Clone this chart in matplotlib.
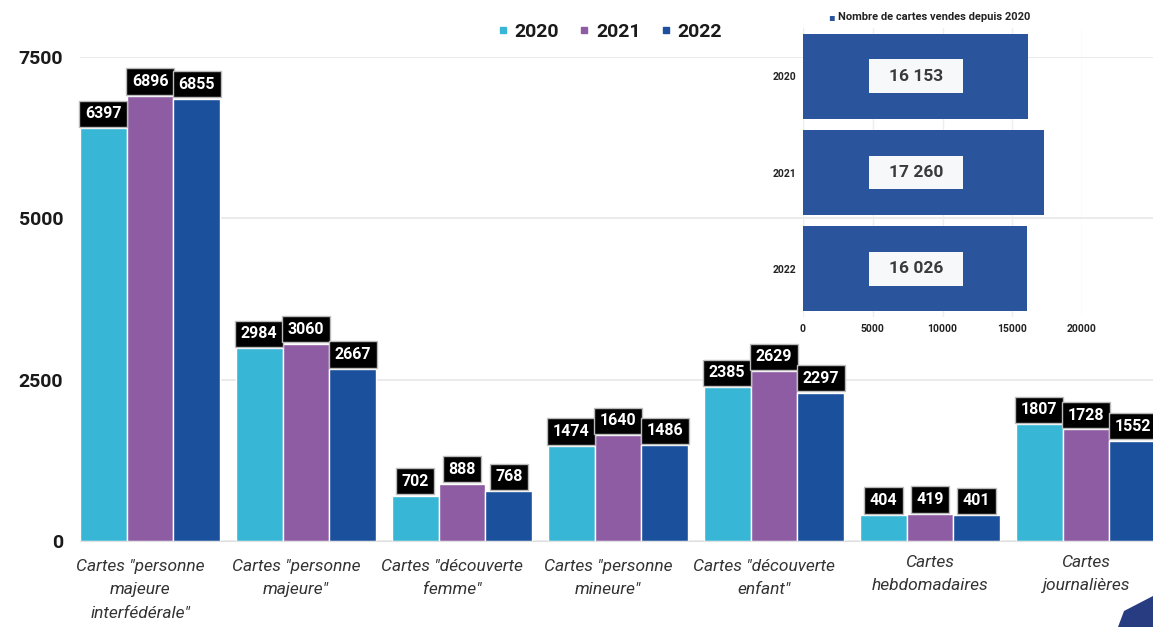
import numpy as np
import matplotlib
matplotlib.use('Agg')
import matplotlib.pyplot as plt
from matplotlib.lines import Line2D
from matplotlib.patches import Rectangle, Polygon
from matplotlib.transforms import ScaledTranslation

plt.rcParams['font.family'] = ['Roboto', 'DejaVu Sans']

# Data
categories = ['Cartes "personne\nmajeure\ninterfédérale"',
              'Cartes "personne\nmajeure"',
              'Cartes "découverte\nfemme"',
              'Cartes "personne\nmineure"',
              'Cartes "découverte\nenfant"',
              'Cartes\nhebdomadaires',
              'Cartes\njournalières']
years = ['2020', '2021', '2022']
v2020 = [6397, 2984, 702, 1474, 2385, 404, 1807]
v2021 = [6896, 3060, 888, 1640, 2629, 419, 1728]
v2022 = [6855, 2667, 768, 1486, 2297, 401, 1552]
totals = [16153, 17260, 16026]
total_labels = ['16 153', '17 260', '16 026']

colors = ['#38B6D5', '#8E5CA3', '#1A509C']
W, H = 1153, 627
fig = plt.figure(figsize=(W / 100, H / 100), dpi=100)

# Main grouped bar chart
ax = fig.add_axes([80 / W, (H - 541) / H, 1 - 80 / W, (541 - 57) / H])
x = np.arange(len(categories))
bw = 0.3
for i, (vals, c) in enumerate(zip([v2020, v2021, v2022], colors)):
    xs = x + (i - 1) * bw
    ax.bar(xs, vals, width=bw, color=c, edgecolor='white', linewidth=1, zorder=2)
    for xi, v in zip(xs, vals):
        ax.annotate(str(v), (xi, v), xytext=(0, 5), textcoords='offset points',
                    ha='center', va='bottom', color='white', fontsize=11.5,
                    fontweight='bold', zorder=5,
                    bbox=dict(boxstyle='square,pad=0.35', fc='black', ec='#BBBBBB', lw=1))

ax.set_xlim(-0.449, 6.43)
ax.set_ylim(0, 7500)
ax.set_yticks([0, 2500, 5000, 7500])
ax.set_yticklabels(['0', '2500', '5000', '7500'], fontsize=14, fontweight='bold', color='#1a1a1a')
ax.set_xticks(x)
ax.set_xticklabels(categories, fontsize=12.5, style='italic', color='#333333', linespacing=1.7)
ax.tick_params(axis='y', length=0, pad=12)
ax.tick_params(axis='x', length=0, pad=10)
# the long labels sit a bit left and lower in the original
for lbl in ax.get_xticklabels()[:5]:
    lbl.set_transform(lbl.get_transform() + ScaledTranslation(-0.10, -0.04, fig.dpi_scale_trans))
ax.grid(axis='y', color='#E8E8E8', linewidth=1.2, zorder=0)
for s in ['top', 'right', 'left']:
    ax.spines[s].set_visible(False)
ax.spines['bottom'].set_color('#E0E0E0')
# white patch hiding the top gridline behind the inset corner
ax.add_patch(Rectangle((1077 / W, 1 - 88 / H), 1, 1, transform=fig.transFigure,
                       fc='white', ec='none', zorder=1, clip_on=False))

handles = [Line2D([], [], marker='s', linestyle='', color=c, markersize=4.5) for c in colors]
fig.legend(handles, years, loc='center', bbox_to_anchor=(0.529, 1 - 32 / H), ncol=3,
           frameon=False, prop=dict(size=14, weight='bold'), handlelength=0.5,
           handletextpad=0.35, columnspacing=1.05, labelcolor='#1a1a1a')

# Inset horizontal bar chart
ins = fig.add_axes([803 / W, (H - 317) / H, 279 / W, 289 / H])
ins.patch.set_alpha(0)
yy = np.arange(len(years))
ins.barh(yy, totals, height=0.88, color='#2A549C', zorder=2)
for yi, lab in zip(yy, total_labels):
    ins.add_patch(Rectangle((8100 - 3400, yi - 0.175), 6800, 0.35, fc='#F6F8F9', ec='none', zorder=3))
    ins.text(8100, yi, lab, ha='center', va='center', fontsize=12.5, fontweight='bold',
             color='#3a3a3a', zorder=4)
ins.set_xlim(0, 20000)
ins.set_ylim(2.5, -0.5)
ins.set_yticks(yy)
ins.set_yticklabels(years, fontsize=7.5, fontweight='bold', color='#222222')
ins.set_xticks([0, 5000, 10000, 15000, 20000])
ins.set_xticklabels(['0', '5000', '10000', '15000', '20000'], fontsize=7.5,
                    fontweight='bold', color='#222222')
ins.tick_params(length=0, pad=5)
ins.grid(axis='x', color='#EEEEEE', linewidth=1, zorder=0)
for s in ins.spines.values():
    s.set_visible(False)
fig.text(828 / W, 1 - 17 / H, '▪', ha='left', va='center', fontsize=7, color='#2A549C')
fig.text(838 / W, 1 - 17 / H, 'Nombre de cartes vendes depuis 2020', ha='left', va='center',
         fontsize=8, fontweight='bold', color='#222222')

# corner decoration
fig.patches.append(Polygon([(1118 / W, 0), (1124 / W, 16 / H), (1153 / W, 31 / H), (1, 0)],
                           closed=True, transform=fig.transFigure, fc='#283C82', ec='none'))

fig.savefig('out.png', dpi=100)
